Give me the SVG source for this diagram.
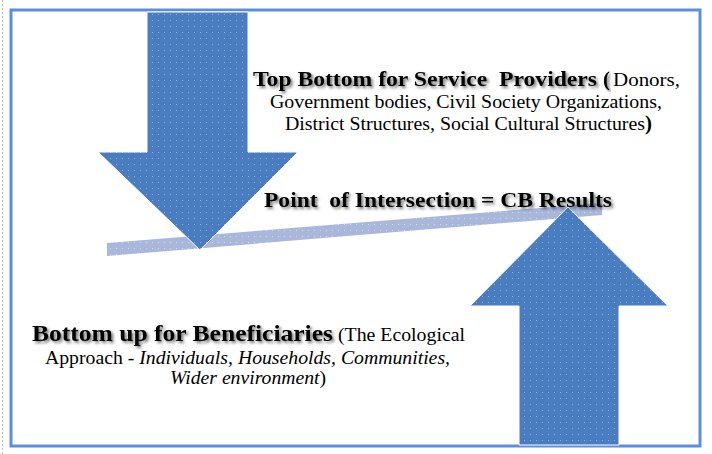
<svg xmlns="http://www.w3.org/2000/svg" width="712" height="454" viewBox="0 0 712 454">
<defs>
<filter id="shadow" x="-5%" y="-30%" width="110%" height="160%">
<feGaussianBlur in="SourceAlpha" stdDeviation="1.6" result="b"/>
<feOffset in="b" dx="2" dy="2" result="o"/>
<feComponentTransfer in="o" result="s"><feFuncA type="linear" slope="0.55"/></feComponentTransfer>
<feMerge><feMergeNode in="s"/><feMergeNode in="SourceGraphic"/></feMerge>
</filter>
<pattern id="dots" width="6" height="6" patternUnits="userSpaceOnUse">
<rect width="6" height="6" fill="#4a7dbf"/>
<rect x="2" y="2" width="1" height="1" fill="#8fb0dc"/>
</pattern>
<pattern id="bandfill" width="6" height="6" patternUnits="userSpaceOnUse">
<rect width="6" height="6" fill="#a9b7da"/>
<rect x="2" y="2" width="1" height="1" fill="#d4dcef"/>
</pattern>
</defs>
<style>
text{font-family:'Liberation Serif','Times New Roman',serif;fill:#000}
.bold{font-weight:bold}
.reg{font-size:18px}
.it{font-style:italic}
.pre{white-space:pre}
.arrow{fill:url(#dots);stroke:#ffffff;stroke-width:1}
</style>
<rect width="712" height="454" fill="#ffffff"/>
<line x1="2.5" y1="0" x2="2.5" y2="454" stroke="#bdbdbd" stroke-width="1" stroke-dasharray="2,2"/>
<g id="frame">
<rect x="11" y="10" width="689" height="436" fill="#ffffff" stroke="#5b8edf" stroke-width="3"/>
</g>
<g id="band">
<polygon points="107,243 602,203 602,215 107,256" fill="url(#bandfill)"/>
</g>
<g id="top-down-arrow">
<polygon class="arrow" points="147,12 248,12 248,152 298,152 200,250 98,152 147,152"/>
</g>
<g id="bottom-up-arrow">
<polygon class="arrow" points="568,207 668,306 619,306 619,445 519,445 519,306 470,306"/>
</g>
<g id="service-providers">
<text class="bold pre" x="253" y="86" font-size="21" textLength="344" lengthAdjust="spacingAndGlyphs" filter="url(#shadow)">Top Bottom for Service  Providers</text>
<text class="bold" x="603" y="86" font-size="21" filter="url(#shadow)">(</text>
<text class="reg" x="613" y="86" textLength="67" lengthAdjust="spacingAndGlyphs">Donors,</text>
<text class="reg" x="270" y="108" textLength="392" lengthAdjust="spacingAndGlyphs">Government bodies, Civil Society Organizations,</text>
<text class="reg" x="285" y="130" textLength="360" lengthAdjust="spacingAndGlyphs">District Structures, Social Cultural Structures</text>
<text class="bold" x="645" y="130" font-size="21">)</text>
</g>
<g id="intersection">
<text class="bold pre" x="264" y="207" font-size="21" textLength="348" lengthAdjust="spacingAndGlyphs" filter="url(#shadow)">Point  of Intersection = CB Results</text>
</g>
<g id="beneficiaries">
<text class="bold" x="32" y="341" font-size="23" textLength="301" lengthAdjust="spacingAndGlyphs" filter="url(#shadow)">Bottom up for Beneficiaries</text>
<text class="reg" x="338" y="341" textLength="127" lengthAdjust="spacingAndGlyphs">(The Ecological</text>
<text class="reg" x="45" y="364" textLength="405" lengthAdjust="spacingAndGlyphs">Approach - <tspan class="it">Individuals, Households, Communities,</tspan></text>
<text class="reg" x="170" y="384" textLength="156" lengthAdjust="spacingAndGlyphs"><tspan class="it">Wider environment</tspan>)</text>
</g>
</svg>
